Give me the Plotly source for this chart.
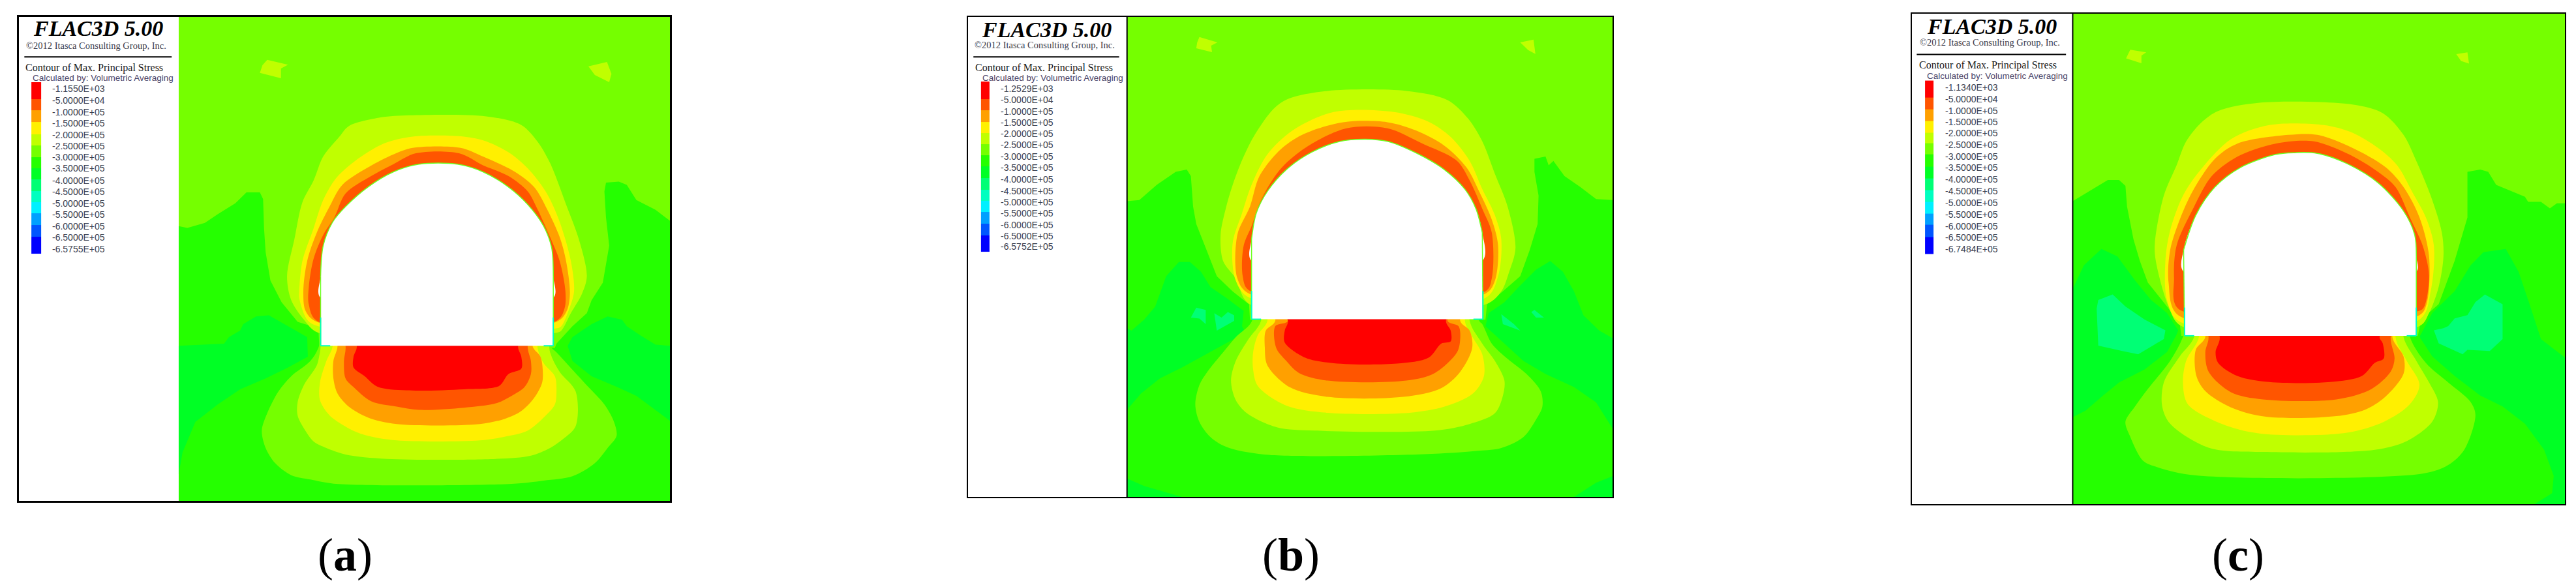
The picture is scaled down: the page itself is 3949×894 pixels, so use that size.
import plotly.graph_objects as go

W, H = 3949, 894

# contour colours, one per legend band
band_colors = ['#ff0000', '#ff5500', '#ffa000', '#fff000', '#c0ff00', '#75ff00', '#25ff00',
               '#00ff25', '#00ff75', '#00ffc0', '#00f0ff', '#00a0ff', '#0055ff', '#0000ff']

title_text = 'FLAC3D 5.00'
copyright_text = '©2012 Itasca Consulting Group, Inc.'
contour_text = 'Contour of Max. Principal Stress'
calc_text = 'Calculated by: Volumetric Averaging'

a_labels = ['-1.1550E+03', '-5.0000E+04', '-1.0000E+05', '-1.5000E+05', '-2.0000E+05',
            '-2.5000E+05', '-3.0000E+05', '-3.5000E+05', '-4.0000E+05', '-4.5000E+05',
            '-5.0000E+05', '-5.5000E+05', '-6.0000E+05', '-6.5000E+05', '-6.5755E+05']
b_labels = ['-1.2529E+03'] + a_labels[1:14] + ['-6.5752E+05']
c_labels = ['-1.1340E+03'] + a_labels[1:14] + ['-6.7484E+05']

# legend swatch edges and label heights (units of each panel below)
a_edges = [378, 456, 508, 560, 618, 670, 722, 775, 825, 878, 930, 980, 1035, 1090, 1168]
b_edges = [375, 455, 508, 560, 613, 663, 713, 765, 818, 872, 923, 975, 1028, 1082, 1158]
c_edges = [370, 448, 502, 557, 610, 658, 710, 765, 820, 873, 927, 982, 1035, 1090, 1168]
a_label_y = [408, 462, 515, 568, 620, 672, 722, 775, 830, 882, 935, 988, 1040, 1093, 1145]
b_label_y = [408, 460, 512, 565, 615, 667, 720, 772, 825, 878, 930, 982, 1035, 1085, 1135]
c_label_y = [400, 455, 508, 560, 612, 665, 720, 770, 825, 878, 933, 988, 1040, 1092, 1145]

# ---- panel (a) contours
a_green = [(8, 1040), (35, 1048), (90, 1025), (130, 985), (185, 935), (220, 885), (262, 885), (272, 915),
           (275, 1050), (280, 1160), (295, 1290), (330, 1390), (380, 1480), (445, 1510), (448, 1600),
           (1185, 1600), (1190, 1580), (1215, 1540), (1240, 1500), (1285, 1440), (1300, 1380), (1335, 1300),
           (1355, 1130), (1345, 1000), (1340, 880), (1345, 840), (1385, 835), (1410, 850), (1440, 920),
           (1500, 965), (1545, 1015), (1545, 2303), (8, 2303)]
a_bright_l = [(8, 1590), (150, 1580), (165, 1550), (200, 1520), (210, 1490), (250, 1455), (290, 1450),
              (350, 1500), (410, 1550), (412, 1640), (350, 1690), (280, 1740), (200, 1790), (130, 1860),
              (60, 1940), (20, 2080), (8, 2180)]
a_bright_r = [(1545, 1590), (1500, 1585), (1450, 1540), (1410, 1500), (1395, 1470), (1350, 1455), (1300, 1490),
              (1270, 1520), (1240, 1550), (1225, 1590), (1240, 1660), (1300, 1730), (1380, 1780), (1440, 1820),
              (1490, 1875), (1545, 1935)]
a_spots = [[(285, 275), (350, 298), (328, 315), (328, 360), (262, 335), (270, 300)],
           [(1290, 305), (1348, 285), (1362, 340), (1355, 378), (1310, 345)]]
a_floor_lime = [(445, 1600), (420, 1660), (360, 1730), (320, 1800), (285, 1900), (268, 1980), (280, 2060),
                (310, 2130), (360, 2185), (420, 2205), (500, 2225), (1050, 2225), (1150, 2210), (1240, 2190),
                (1310, 2130), (1350, 2060), (1378, 2005), (1370, 1940), (1340, 1860), (1290, 1780),
                (1240, 1700), (1190, 1620), (1170, 1590)]
a_floor_yg = [(450, 1620), (440, 1680), (400, 1770), (380, 1850), (380, 1910), (400, 1970), (430, 2030),
              (470, 2060), (530, 2090), (660, 2110), (1000, 2110), (1110, 2095), (1170, 2060), (1210, 2020),
              (1250, 1960), (1250, 1800), (1200, 1710), (1170, 1620)]
a_floor_yellow = [(490, 1590), (470, 1660), (450, 1760), (450, 1840), (480, 1910), (540, 1970), (590, 2000),
                  (690, 2025), (950, 2025), (1040, 2005), (1100, 1980), (1150, 1920), (1185, 1860), (1190, 1800),
                  (1185, 1730), (1150, 1670), (1130, 1590)]
a_floor_orange = [(505, 1590), (492, 1660), (492, 1740), (505, 1810), (540, 1870), (600, 1920), (690, 1950),
                  (950, 1950), (1030, 1925), (1080, 1890), (1120, 1830), (1145, 1760), (1147, 1700),
                  (1140, 1640), (1115, 1590)]
a_floor_ored = [(530, 1590), (525, 1660), (530, 1740), (555, 1780), (610, 1845), (690, 1870), (760, 1885),
                (900, 1875), (1000, 1855), (1050, 1820), (1090, 1780), (1110, 1720), (1110, 1660), (1100, 1590)]
a_floor_red = [(565, 1590), (555, 1640), (555, 1690), (590, 1730), (630, 1778), (720, 1795), (900, 1790),
               (1010, 1775), (1040, 1720), (1080, 1695), (1080, 1640), (1070, 1590)]
a_arch_yg = [(445, 1530), (400, 1470), (360, 1380), (347, 1270), (370, 1100), (395, 930), (430, 830), (460, 720),
             (510, 630), (540, 580), (640, 540), (730, 530), (970, 535), (1080, 575), (1130, 650), (1170, 750),
             (1220, 940), (1260, 1100), (1285, 1270), (1270, 1350), (1235, 1440), (1205, 1520), (1190, 1530)]
a_arch_yellow = [(445, 1500), (410, 1470), (385, 1370), (385, 1340), (395, 1200), (430, 1050), (460, 920), (500, 820),
                 (560, 740), (650, 660), (740, 628), (900, 628), (970, 650), (1050, 710), (1110, 790), (1160, 890),
                 (1200, 1020), (1235, 1200), (1245, 1340), (1230, 1420), (1205, 1500), (1190, 1510)]
a_arch_orange = [(440, 1480), (405, 1430), (398, 1340), (410, 1200), (440, 1070), (480, 950), (520, 850), (600, 770),
                 (680, 710), (740, 680), (890, 680), (960, 720), (1060, 790), (1120, 860), (1160, 960), (1200, 1090),
                 (1220, 1200), (1232, 1350), (1222, 1430), (1190, 1480)]
a_arch_ored = [(440, 1475), (415, 1400), (415, 1320), (430, 1190), (460, 1080), (495, 1000), (530, 890), (610, 810),
               (680, 755), (750, 705), (885, 705), (960, 760), (1040, 810), (1100, 880), (1130, 960), (1170, 1090),
               (1200, 1200), (1218, 1340), (1215, 1420), (1190, 1475)]
a_tunnel = [(452, 1590), (452, 1270), (460, 1130), (490, 1020), (530, 950), (600, 860), (680, 790), (760, 755),
            (880, 755), (960, 790), (1040, 860), (1100, 940), (1150, 1040), (1175, 1140), (1180, 1270), (1180, 1590)]

# ---- panel (b) contours
b_green = [(6, 925), (45, 920), (100, 850), (160, 790), (195, 780), (208, 810), (215, 950), (225, 1030), (255, 1140),
           (290, 1270), (340, 1340), (392, 1400), (395, 1470), (1140, 1470), (1145, 1400), (1195, 1340), (1250, 1270),
           (1280, 1150), (1305, 1030), (1308, 900), (1295, 790), (1295, 730), (1330, 720), (1340, 760), (1355, 740),
           (1390, 810), (1440, 860), (1490, 915), (1542, 920), (1542, 2285), (6, 2285)]
b_bright_l = [(6, 1510), (20, 1520), (60, 1470), (95, 1410), (130, 1270), (170, 1205), (205, 1205), (240, 1250),
              (270, 1320), (320, 1370), (375, 1430), (370, 1500), (380, 1530), (330, 1570), (260, 1625), (180, 1690),
              (110, 1740), (50, 1810), (6, 1885)]
b_bright_r = [(1150, 1440), (1200, 1390), (1245, 1320), (1300, 1240), (1345, 1200), (1385, 1250), (1420, 1340),
              (1450, 1450), (1500, 1520), (1542, 1555), (1542, 1970), (1490, 1850), (1420, 1780), (1330, 1720),
              (1260, 1660), (1200, 1580), (1140, 1500)]
b_bright_bl = [(6, 2200), (60, 2235), (180, 2285), (6, 2285)]
b_bright_br = [(1420, 2285), (1490, 2220), (1542, 2190), (1542, 2285)]
b_spring = [[(225, 1415), (255, 1425), (255, 1490), (235, 1465), (208, 1460)],
            [(282, 1440), (305, 1460), (325, 1435), (345, 1450), (345, 1475), (290, 1520)],
            [(1190, 1445), (1230, 1490), (1250, 1520), (1195, 1490)],
            [(1295, 1425), (1325, 1460), (1300, 1460), (1285, 1435)]]
b_spots = [[(235, 170), (292, 195), (272, 210), (275, 240), (225, 222), (228, 195)],
           [(1250, 195), (1292, 182), (1298, 248), (1275, 230)]]
b_floor_lime = [(400, 1480), (350, 1550), (310, 1620), (260, 1710), (235, 1770), (222, 1860), (235, 1940), (270, 2010),
                (320, 2055), (440, 2090), (920, 2090), (1100, 2075), (1190, 2060), (1260, 2010), (1300, 1930),
                (1320, 1870), (1315, 1800), (1270, 1720), (1210, 1650), (1160, 1580), (1130, 1490), (1120, 1475)]
b_floor_yg = [(430, 1475), (390, 1560), (350, 1660), (335, 1750), (350, 1840), (385, 1900), (480, 1965), (600, 1980),
              (980, 1980), (1090, 1950), (1170, 1900), (1195, 1820), (1200, 1750), (1170, 1660), (1130, 1580), (1090, 1475)]
b_floor_yellow = [(450, 1475), (420, 1540), (405, 1620), (405, 1700), (420, 1775), (510, 1865), (640, 1898), (900, 1898),
                  (1010, 1870), (1100, 1810), (1135, 1730), (1130, 1630), (1095, 1540), (1075, 1475)]
b_floor_orange = [(475, 1475), (445, 1520), (442, 1600), (450, 1680), (520, 1780), (640, 1825), (880, 1825), (1000, 1785),
                  (1060, 1710), (1098, 1600), (1090, 1520), (1060, 1475)]
b_floor_ored = [(515, 1475), (475, 1500), (478, 1600), (510, 1660), (550, 1715), (640, 1750), (890, 1750), (980, 1715),
                (1050, 1620), (1060, 1560), (1055, 1500), (1020, 1475)]
b_floor_red = [(515, 1475), (505, 1520), (505, 1575), (570, 1645), (660, 1670), (860, 1672), (960, 1645), (1000, 1580),
               (1030, 1570), (1030, 1520), (1015, 1475)]
b_arch_yg = [(395, 1400), (350, 1280), (310, 1200), (302, 1080), (320, 950), (345, 830), (375, 720), (410, 620), (470, 500),
             (515, 455), (640, 418), (890, 418), (1020, 460), (1085, 545), (1130, 650), (1170, 800), (1210, 950),
             (1235, 1140), (1215, 1250), (1190, 1340), (1140, 1400)]
b_arch_yellow = [(395, 1370), (350, 1290), (340, 1120), (370, 980), (400, 850), (450, 710), (530, 600), (660, 515),
                 (850, 515), (960, 560), (1030, 630), (1090, 740), (1130, 870), (1170, 990), (1190, 1100), (1180, 1270),
                 (1140, 1370)]
b_arch_orange = [(392, 1350), (355, 1280), (355, 1080), (395, 950), (425, 810), (490, 690), (560, 620), (690, 562),
                 (830, 562), (920, 600), (1010, 670), (1080, 770), (1120, 880), (1160, 1010), (1180, 1130), (1170, 1290),
                 (1140, 1350)]
b_arch_ored = [(392, 1335), (372, 1270), (375, 1130), (400, 1040), (430, 920), (490, 780), (570, 680), (700, 590),
               (830, 590), (940, 660), (1050, 740), (1090, 830), (1130, 960), (1160, 1070), (1160, 1280), (1140, 1340)]
b_tunnel = [(400, 1468), (400, 1100), (415, 980), (450, 880), (510, 780), (590, 700), (680, 650), (760, 640), (830, 650),
            (930, 710), (1010, 780), (1075, 870), (1110, 960), (1130, 1070), (1132, 1468)]

# ---- panel (c) contours
c_green = [(5, 925), (50, 885), (115, 828), (150, 828), (170, 855), (175, 950), (195, 1100), (215, 1200), (240, 1300),
           (300, 1410), (340, 1490), (345, 1545), (1085, 1545), (1095, 1470), (1150, 1400), (1200, 1200), (1240, 1000),
           (1240, 790), (1280, 780), (1305, 790), (1330, 850), (1420, 905), (1430, 928), (1470, 928), (1498, 958),
           (1520, 935), (1545, 935), (1545, 2320), (5, 2320)]
c_bright_l = [(5, 1330), (40, 1220), (95, 1145), (145, 1180), (200, 1290), (250, 1380), (300, 1440), (335, 1520), (330, 1540),
              (300, 1620), (230, 1700), (150, 1760), (100, 1820), (45, 1890), (5, 1920)]
c_bright_r = [(1130, 1440), (1200, 1340), (1250, 1220), (1290, 1160), (1360, 1145), (1400, 1250), (1430, 1380), (1470, 1560),
              (1545, 1645), (1545, 2320), (1450, 2320), (1505, 2270), (1510, 2190), (1480, 2070), (1420, 1950), (1350, 1870),
              (1280, 1820), (1200, 1730), (1130, 1640), (1090, 1550)]
c_spring = [[(85, 1380), (130, 1355), (170, 1410), (230, 1470), (295, 1520), (290, 1560), (210, 1630), (160, 1615), (85, 1590), (80, 1420)],
            [(1135, 1520), (1165, 1510), (1180, 1500), (1200, 1465), (1240, 1450), (1265, 1390), (1295, 1355), (1350, 1400),
             (1350, 1560), (1310, 1615), (1240, 1610), (1225, 1630), (1150, 1580)]]
c_spots = [[(185, 228), (235, 240), (220, 255), (220, 290), (172, 268)],
           [(1205, 248), (1240, 240), (1245, 292), (1220, 280)]]
c_floor_lime = [(350, 1550), (310, 1660), (240, 1790), (200, 1870), (170, 1940), (185, 2010), (225, 2120), (270, 2150),
                (390, 2188), (1100, 2180), (1180, 2140), (1230, 2070), (1265, 1910), (1250, 1850), (1180, 1760),
                (1110, 1670), (1060, 1550)]
c_floor_yg = [(385, 1550), (340, 1640), (290, 1760), (285, 1870), (310, 1950), (430, 2060), (600, 2080), (950, 2070),
              (1050, 2030), (1130, 1940), (1148, 1850), (1120, 1760), (1080, 1660), (1040, 1550)]
c_floor_yellow = [(400, 1550), (360, 1660), (350, 1760), (365, 1860), (470, 1950), (590, 1995), (860, 1992), (980, 1940),
                  (1060, 1860), (1090, 1770), (1050, 1660), (1015, 1550)]
c_floor_orange = [(420, 1550), (390, 1610), (392, 1730), (420, 1800), (500, 1875), (610, 1918), (830, 1915), (920, 1885),
                  (980, 1830), (1040, 1720), (1040, 1640), (1005, 1550)]
c_floor_ored = [(430, 1550), (420, 1620), (430, 1710), (500, 1805), (600, 1838), (830, 1838), (940, 1790), (1000, 1710),
                (1012, 1650), (1000, 1550)]
c_floor_red = [(465, 1550), (452, 1620), (460, 1670), (520, 1730), (620, 1758), (810, 1758), (910, 1730), (950, 1670),
               (978, 1650), (975, 1580), (965, 1550)]
c_arch_yg = [(345, 1500), (305, 1410), (265, 1200), (262, 1120), (290, 900), (330, 760), (360, 650), (410, 560), (460, 510),
             (590, 472), (880, 480), (975, 520), (1040, 620), (1080, 740), (1125, 900), (1160, 1070), (1165, 1180),
             (1150, 1320), (1120, 1440), (1090, 1500)]
c_arch_yellow = [(340, 1480), (300, 1380), (295, 1200), (310, 1060), (350, 900), (400, 790), (500, 640), (620, 575), (790, 575),
                 (880, 610), (960, 680), (1020, 760), (1070, 890), (1110, 1000), (1135, 1130), (1125, 1340), (1090, 1470)]
c_arch_orange = [(335, 1450), (305, 1300), (310, 1150), (340, 1010), (380, 880), (450, 730), (520, 660), (680, 620), (770, 620),
                 (880, 680), (985, 770), (1040, 860), (1090, 1000), (1120, 1180), (1112, 1400), (1090, 1450)]
c_arch_ored = [(335, 1420), (322, 1280), (330, 1130), (385, 950), (440, 810), (520, 720), (640, 660), (760, 650), (870, 710),
               (960, 790), (1015, 860), (1060, 1000), (1100, 1130), (1120, 1270), (1105, 1410), (1090, 1430)]
c_tunnel = [(355, 1545), (352, 1150), (390, 990), (450, 860), (530, 770), (640, 710), (700, 702), (770, 705), (860, 750),
            (960, 840), (1040, 970), (1075, 1080), (1080, 1180), (1080, 1545)]


def poly(xy, color, xa, ya, smooth=False):
    line = dict(width=0, color=color)
    if smooth:
        line.update(shape='spline', smoothing=0.9)
    return go.Scatter(x=[p[0] for p in xy] + [xy[0][0]], y=[p[1] for p in xy] + [xy[0][1]], xaxis=xa, yaxis=ya,
                      mode='lines', line=line, fill='toself', fillcolor=color,
                      hoverinfo='skip', showlegend=False)


def seg(xs, ys, color, width, xa, ya, smooth=False):
    line = dict(width=width, color=color)
    if smooth:
        line.update(shape='spline', smoothing=0.9)
    return go.Scatter(x=xs, y=ys, xaxis=xa, yaxis=ya, mode='lines', line=line,
                      hoverinfo='skip', showlegend=False)


# one colour per integer step for the swatch
swatch_scale = []
for i, c in enumerate(band_colors):
    swatch_scale += [[i / 14, c], [(i + 1) / 14, c]]

panels = [
    dict(name='a', px=(29, 1027), py=(26, 768), u=(-492, 1545), v=(78, 2303), field=(8, 1545), frame=3,
         labels=a_labels, edges=a_edges, label_y=a_label_y, swatch=(-453, -422), label_x=-218,
         title=(-243, 130), copyright=(-251, 210), rule=(-475, -14, 262), contour=(-475, 312), calc=(-453, 358),
         caption=529, divider=False,
         green=a_green, bright=[a_bright_l, a_bright_r], spring=[], spots=a_spots,
         floor=[(a_floor_lime, 5), (a_floor_yg, 4), (a_floor_yellow, 3), (a_floor_orange, 2), (a_floor_ored, 1), (a_floor_red, 0)],
         arch=[(a_arch_yg, 4), (a_arch_yellow, 3), (a_arch_orange, 2), (a_arch_ored, 1)],
         tunnel=a_tunnel),
    dict(name='b', px=(1484, 2472), py=(26, 762), u=(-497, 1542), v=(78, 2285), field=(6, 1542), frame=2,
         labels=b_labels, edges=b_edges, label_y=b_label_y, swatch=(-456, -430), label_x=-223,
         title=(-248, 135), copyright=(-255, 208), rule=(-480, -19, 262), contour=(-478, 312), calc=(-456, 358),
         caption=1979, divider=True,
         green=b_green, bright=[b_bright_l, b_bright_r, b_bright_bl, b_bright_br], spring=b_spring, spots=b_spots,
         floor=[(b_floor_lime, 5), (b_floor_yg, 4), (b_floor_yellow, 3), (b_floor_orange, 2), (b_floor_ored, 1), (b_floor_red, 0)],
         arch=[(b_arch_yg, 4), (b_arch_yellow, 3), (b_arch_orange, 2), (b_arch_ored, 1)],
         tunnel=b_tunnel),
    dict(name='c', px=(2931, 3932), py=(21, 773), u=(-498, 1545), v=(62, 2320), field=(5, 1545), frame=2,
         labels=c_labels, edges=c_edges, label_y=c_label_y, swatch=(-457, -430), label_x=-224,
         title=(-249, 120), copyright=(-255, 195), rule=(-483, -16, 250), contour=(-479, 300), calc=(-455, 350),
         caption=3431, divider=True,
         green=c_green, bright=[c_bright_l, c_bright_r], spring=c_spring, spots=c_spots,
         floor=[(c_floor_lime, 5), (c_floor_yg, 4), (c_floor_yellow, 3), (c_floor_orange, 2), (c_floor_ored, 1), (c_floor_red, 0)],
         arch=[(c_arch_yg, 4), (c_arch_yellow, 3), (c_arch_orange, 2), (c_arch_ored, 1)],
         tunnel=c_tunnel),
]

fig = go.Figure()
annotations = []
layout = {}

for n, p in enumerate(panels):
    suffix = '' if n == 0 else str(n + 1)
    xa, ya = 'x' + suffix, 'y' + suffix
    layout['xaxis' + suffix] = dict(domain=[p['px'][0] / W, p['px'][1] / W], range=list(p['u']), anchor=ya,
                                    showgrid=False, zeroline=False, showticklabels=False, ticks='',
                                    showline=True, mirror=True, linecolor='black', linewidth=p['frame'])
    layout['yaxis' + suffix] = dict(domain=[1 - p['py'][1] / H, 1 - p['py'][0] / H], range=[p['v'][1], p['v'][0]], anchor=xa,
                                    showgrid=False, zeroline=False, showticklabels=False, ticks='',
                                    showline=True, mirror=True, linecolor='black', linewidth=p['frame'])

    f0, f1 = p['field']
    # field background first, then the contour bands nested on top
    fig.add_trace(poly([(f0, p['v'][0]), (f1, p['v'][0]), (f1, p['v'][1]), (f0, p['v'][1])], band_colors[5], xa, ya))
    fig.add_trace(poly(p['green'], band_colors[6], xa, ya))
    for b in p['bright']:
        fig.add_trace(poly(b, band_colors[7], xa, ya))
    for s in p['spring']:
        fig.add_trace(poly(s, band_colors[8], xa, ya))
    for s in p['spots']:
        fig.add_trace(poly(s, band_colors[4], xa, ya))
    t = p['tunnel']
    floor_y = t[0][1]
    for xy, ci in p['floor']:
        # carry the lobe ends up inside the opening so the spline stays straight at the floor line
        lobe = [(t[0][0] + 30, floor_y - 200)] + xy + [(t[-1][0] - 30, floor_y - 200)]
        fig.add_trace(poly(lobe, band_colors[ci], xa, ya, smooth=True))
    for xy, ci in p['arch']:
        fig.add_trace(poly(xy, band_colors[ci], xa, ya, smooth=True))

    # rounded arch first, then the straight lower walls so the corners stay square
    wall_y = t[1][1] + 100
    arch = [(t[1][0], wall_y)] + t[1:-1] + [(t[-2][0], wall_y)]
    fig.add_trace(poly(arch, 'white', xa, ya, smooth=True))
    fig.add_trace(poly([t[0], t[1], t[-2], t[-1]], 'white', xa, ya))
    # thin fringe round the opening: green over the arch, cyan on the lower walls
    fig.add_trace(seg([q[0] for q in t[1:-1]], [q[1] for q in t[1:-1]], '#6cff20', 1.5, xa, ya, smooth=True))
    fig.add_trace(seg([t[0][0], t[1][0]], [t[0][1], t[1][1]], '#6cff20', 1.5, xa, ya))
    fig.add_trace(seg([t[-1][0], t[-2][0]], [t[-1][1], t[-2][1]], '#6cff20', 1.5, xa, ya))
    for q0 in (t[0], t[-1]):
        fig.add_trace(seg([q0[0], q0[0]], [q0[1], q0[1] - 130], '#00ffc0', 2, xa, ya))
    fig.add_trace(seg([t[0][0], t[0][0] + 30], [floor_y, floor_y], '#00ffc0', 2, xa, ya))
    fig.add_trace(seg([t[-1][0] - 30, t[-1][0]], [floor_y, floor_y], '#00ffc0', 2, xa, ya))

    if p['divider']:
        fig.add_trace(seg([f0, f0], list(p['v']), 'black', 2, xa, ya))

    # legend swatch and rule
    fig.add_trace(go.Heatmap(z=[[i] for i in range(14)], x=list(p['swatch']), y=p['edges'], xaxis=xa, yaxis=ya,
                             zmin=-0.5, zmax=13.5, colorscale=swatch_scale, showscale=False, hoverinfo='skip'))
    fig.add_trace(seg([p['rule'][0], p['rule'][1]], [p['rule'][2]] * 2, 'black', 2, xa, ya))

    def note(text, x, y, size, family, color, anchor='left'):
        annotations.append(dict(text=text, x=x, y=y, xref=xa, yref=ya, showarrow=False, xanchor=anchor, yanchor='middle',
                                font=dict(size=size, family=family, color=color)))

    note('<b><i>%s</i></b>' % title_text, p['title'][0], p['title'][1], 34, 'Liberation Serif', 'black', 'center')
    note(copyright_text, p['copyright'][0], p['copyright'][1], 14.5, 'Liberation Serif', '#3a3a4a', 'center')
    note(contour_text, p['contour'][0], p['contour'][1], 16, 'Liberation Serif', '#1a1a1a')
    note(calc_text, p['calc'][0], p['calc'][1], 13.5, 'Liberation Sans', '#4a4468')
    for lab, y in zip(p['labels'], p['label_y']):
        note(lab, p['label_x'], y, 14, 'Liberation Sans', '#3a4050', 'right')
    # the caption sits below the axes, so it goes in paper coordinates
    annotations.append(dict(text='(<b>%s</b>)' % p['name'], x=p['caption'] / W, y=1 - 851 / H, xref='paper', yref='paper',
                            showarrow=False, xanchor='center', yanchor='middle',
                            font=dict(size=72, family='Liberation Serif', color='black')))

fig.update_layout(width=W, height=H, margin=dict(l=0, r=0, t=0, b=0), paper_bgcolor='white', plot_bgcolor='white',
                  annotations=annotations, showlegend=False, **layout)

fig.write_html("out.html", config=dict(displayModeBar=False),
               post_script="document.body.style.margin='0';document.body.style.overflow='hidden';")
